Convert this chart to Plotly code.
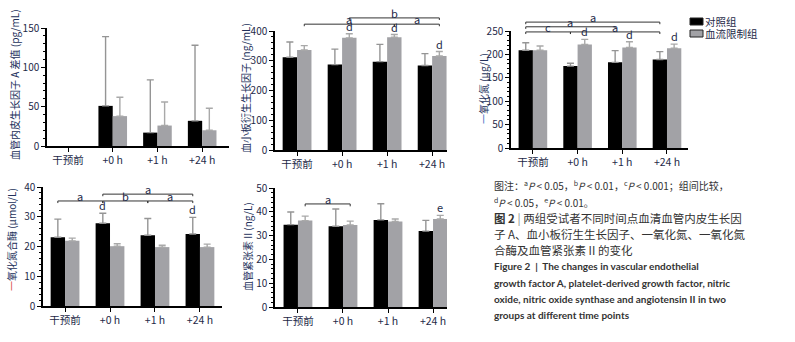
import plotly.graph_objects as go

W, H = 795, 342

# ---------------- data ----------------
categories = ["干预前", "+0 h", "+1 h", "+24 h"]
group_names = ["对照组", "血流限制组"]

vegf_ctrl = [None, 51, 17, 32]
vegf_ctrl_sd = [None, 88, 67, 96]
vegf_bfr = [None, 38, 26, 20]
vegf_bfr_sd = [None, 24, 30, 28]

pdgf_ctrl = [312, 287, 297, 284]
pdgf_ctrl_sd = [51, 52, 58, 40]
pdgf_bfr = [336, 377, 379, 316]
pdgf_bfr_sd = [15, 14, 9, 15]

no_ctrl = [209, 175, 183, 189]
no_ctrl_sd = [16, 6, 25, 17]
no_bfr = [209, 221, 215, 213]
no_bfr_sd = [9, 11, 12, 9]

nos_ctrl = [23.1, 27.8, 23.8, 24.2]
nos_ctrl_sd = [6.1, 3.4, 5.6, 5.6]
nos_bfr = [21.9, 20.1, 19.8, 19.8]
nos_bfr_sd = [0.9, 0.8, 0.6, 1.0]

ang_ctrl = [34.6, 33.9, 36.6, 31.9]
ang_ctrl_sd = [5.3, 7.3, 6.8, 4.5]
ang_bfr = [36.3, 34.5, 35.9, 37.0]
ang_bfr_sd = [1.9, 1.6, 1.1, 1.5]

# significance brackets: (group 0=ctrl/1=bfr, from idx, to idx, level value, label)
pdgf_brackets = [(1, 0, 2, 423, "a"), (1, 2, 3, 423, "a"), (1, 1, 3, 444, "b")]
no_brackets = [(0, 0, 1, 248, "c"), (0, 1, 3, 248, "a"), (0, 0, 2, 259, "a"), (0, 0, 3, 269, "a")]
nos_brackets = [(0, 0, 1, 35.3, "a"), (0, 1, 2, 35.3, "b"), (0, 2, 3, 35.3, "a"), (0, 1, 3, 37.6, "a")]
ang_brackets = [(1, 0, 1, 43.3, "a")]

# between-group marks: (group, idx, label)
pdgf_marks = [(1, 1, "d"), (1, 2, "d"), (1, 3, "d")]
no_marks = [(1, 1, "d"), (1, 2, "d"), (1, 3, "d")]
nos_marks = [(0, 1, "d"), (0, 3, "d")]
ang_marks = [(1, 3, "e")]

# ---------------- styling ----------------
CJK = "Noto Sans CJK SC"
TXT = "#1e2a48"
BLACK = "#000000"
GRAY = "#a2a2a6"
ERR_C = ["#959595", "#a9a9a9"]
BW = 0.32

NAVY = "#22305a"
panels = [
    dict(ctrl=vegf_ctrl, ctrl_sd=vegf_ctrl_sd, bfr=vegf_bfr, bfr_sd=vegf_bfr_sd,
         box=(47, 229, 28, 146), xr=(-0.47, 3.6), ymax=150, dt=50, mdt=10,
         title="血管内皮生长因子 A 差值 (pg/mL)", tx=15, ty=85,
         brackets=[], marks=[], depth=0),
    dict(ctrl=pdgf_ctrl, ctrl_sd=pdgf_ctrl_sd, bfr=pdgf_bfr, bfr_sd=pdgf_bfr_sd,
         box=(275, 447, 31, 150), xr=(-0.49, 3.33), ymax=400, dt=100, mdt=20,
         title="血小板衍生生长因子 (ng/mL)", tx=245, ty=88,
         brackets=pdgf_brackets, marks=pdgf_marks, depth=7),
    dict(ctrl=no_ctrl, ctrl_sd=no_ctrl_sd, bfr=no_bfr, bfr_sd=no_bfr_sd,
         box=(511, 688, 31, 148), xr=(-0.49, 3.47), ymax=250, dt=50, mdt=10,
         title='<span style="color:#3b6fc4">一</span>氧化氮 (μg/L)', tx=483, ty=89,
         brackets=no_brackets, marks=no_marks, depth=4.5),
    dict(ctrl=nos_ctrl, ctrl_sd=nos_ctrl_sd, bfr=nos_bfr, bfr_sd=nos_bfr_sd,
         box=(43, 222, 187, 306), xr=(-0.49, 3.49), ymax=40, dt=10, mdt=2,
         title='<span style="color:#d9534f">一</span>氧化氮合酶 (μmol/L)', tx=11, ty=240,
         brackets=nos_brackets, marks=nos_marks, depth=0.7),
    dict(ctrl=ang_ctrl, ctrl_sd=ang_ctrl_sd, bfr=ang_bfr, bfr_sd=ang_bfr_sd,
         box=(275, 447, 188, 307), xr=(-0.51, 3.31), ymax=50, dt=10, mdt=2,
         title="血管紧张素 II (ng/L)", tx=247, ty=247,
         brackets=ang_brackets, marks=ang_marks, depth=1.0),
]

fig = go.Figure()
shapes = []
annotations = []
xpos = list(range(len(categories)))

for k, p in enumerate(panels, start=1):
    sx = "" if k == 1 else str(k)
    xa, ya = "x" + sx, "y" + sx
    x0, x1, yt, yb = p["box"]
    xdom = [x0 / W, x1 / W]
    ydom = [1 - yb / H, 1 - yt / H]

    for g, (vals, sds, col) in enumerate([(p["ctrl"], p["ctrl_sd"], BLACK),
                                          (p["bfr"], p["bfr_sd"], GRAY)]):
        fig.add_trace(go.Bar(
            x=xpos, y=vals, width=BW, offset=-BW if g == 0 else 0,
            marker=dict(color=col, line=dict(width=0)),
            error_y=dict(type="data", array=sds, arrayminus=[0] * len(sds),
                         symmetric=False, color=ERR_C[g], thickness=1.4, width=3.5),
            name=group_names[g], showlegend=False, xaxis=xa, yaxis=ya,
            hoverinfo="skip"))

    fig.layout["xaxis" + sx] = dict(
        domain=xdom, range=list(p["xr"]), anchor=ya, tickvals=xpos, ticktext=categories,
        ticks="outside", ticklen=4, tickwidth=1.2, tickcolor="black", automargin=False,
        showline=True, linecolor="black", linewidth=1.5, showgrid=False, zeroline=False,
        tickfont=dict(family=CJK, size=10.5, color=TXT), fixedrange=True)
    fig.layout["yaxis" + sx] = dict(
        domain=ydom, range=[0, p["ymax"]], anchor=xa, dtick=p["dt"], tick0=0,
        ticks="outside", ticklen=4, tickwidth=1.2, tickcolor="black", automargin=False,
        minor=dict(dtick=p["mdt"], ticks="outside", ticklen=2, tickwidth=1, tickcolor="black"),
        showline=True, linecolor="black", linewidth=1.5, showgrid=False, zeroline=False,
        tickfont=dict(family=CJK, size=10, color=TXT), fixedrange=True)

    annotations.append(dict(
        text=p["title"], x=p["tx"] / W, y=1 - p["ty"] / H, xref="paper", yref="paper",
        textangle=-90, showarrow=False, xanchor="center", yanchor="middle",
        font=dict(family=CJK, size=10, color=NAVY)))

    def paper_y(v, ydom=ydom, ymax=p["ymax"]):
        return ydom[0] + v / ymax * (ydom[1] - ydom[0])

    for (g, i0, i1, lvl, lab) in p["brackets"]:
        off = -BW / 2 if g == 0 else BW / 2
        xs0, xs1 = xpos[i0] + off, xpos[i1] + off
        ytop = paper_y(lvl)
        ybot = paper_y(lvl - p["depth"])
        for (ax0, ay0, ax1, ay1) in [(xs0, ybot, xs0, ytop), (xs0, ytop, xs1, ytop),
                                     (xs1, ytop, xs1, ybot)]:
            shapes.append(dict(type="line", xref=xa, yref="paper", x0=ax0, x1=ax1,
                               y0=ay0, y1=ay1, line=dict(color="#333333", width=1)))
        annotations.append(dict(
            text=lab, x=(xs0 + xs1) / 2, y=ytop, xref=xa, yref="paper",
            showarrow=False, xanchor="center", yanchor="bottom", yshift=-5,
            font=dict(family=CJK, size=11, color=TXT)))

    for (g, i, lab) in p["marks"]:
        vals = p["ctrl"] if g == 0 else p["bfr"]
        sds = p["ctrl_sd"] if g == 0 else p["bfr_sd"]
        off = -BW / 2 if g == 0 else BW / 2
        annotations.append(dict(
            text=lab, x=xpos[i] + off, y=vals[i] + sds[i], xref=xa, yref=ya,
            showarrow=False, xanchor="center", yanchor="bottom", yshift=-2,
            font=dict(family=CJK, size=11, color=TXT)))

# ---------------- legend (drawn manually) ----------------
for j, (col, lab) in enumerate([(BLACK, group_names[0]), (GRAY, group_names[1])]):
    ycen = 21.5 + 12 * j
    shapes.append(dict(type="rect", xref="paper", yref="paper",
                       x0=690 / W, x1=703 / W, y0=1 - (ycen + 3.5) / H, y1=1 - (ycen - 3.5) / H,
                       fillcolor=col, line=dict(color="#222222", width=1)))
    annotations.append(dict(text=lab, x=704 / W, y=1 - ycen / H, xref="paper", yref="paper",
                            showarrow=False, xanchor="left", yanchor="middle",
                            borderpad=0, font=dict(family=CJK, size=10.5, color=TXT)))

# ---------------- caption ----------------
CAP = "#333333"
cap_lines = [
    (185, "图注：<sup>a</sup><i>P</i> < 0.05，<sup>b</sup><i>P</i> < 0.01，<sup>c</sup><i>P</i> < 0.001；组间比较，", CJK, 10),
    (202, "<sup>d</sup><i>P</i> < 0.05，<sup>e</sup><i>P</i> < 0.01。", CJK, 10),
    (218, "<b>图 2</b> <span style='color:#888'>|</span> 两组受试者不同时间点血清血管内皮生长因", CJK, 11.5),
    (234, "子 A、血小板衍生生长因子、一氧化氮、一氧化氮", CJK, 11.5),
    (250, "合酶及血管紧张素 II 的变化", CJK, 11.5),
    (266, "<b>Figure 2  |  The changes in vascular endothelial</b>", "Lato", 10),
    (283, "<b>growth factor A, platelet-derived growth factor, nitric</b>", "Lato", 10),
    (299, "<b>oxide, nitric oxide synthase and angiotensin II in two</b>", "Lato", 10),
    (315, "<b>groups at different time points</b>", "Lato", 10),
]
for (yc, txt, fam, sz) in cap_lines:
    annotations.append(dict(text=txt, x=492 / W, y=1 - yc / H, xref="paper", yref="paper",
                            showarrow=False, xanchor="left", yanchor="middle", align="left",
                            font=dict(family=fam, size=sz, color=CAP)))

fig.update_layout(
    template="none",
    width=W, height=H, margin=dict(l=0, r=0, t=0, b=0, pad=0, autoexpand=False),
    paper_bgcolor="white", plot_bgcolor="white",
    barmode="overlay", showlegend=False,
    shapes=shapes, annotations=annotations,
    font=dict(family=CJK, color=TXT),
)

fig.write_html("out.html", config={"displayModeBar": False},
               post_script="document.body.style.margin='0px';document.body.style.padding='0px';")
